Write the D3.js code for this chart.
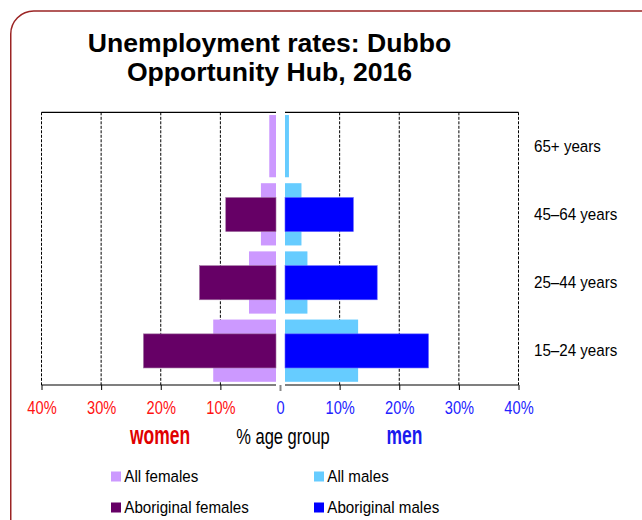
<!DOCTYPE html>
<html>
<head>
<meta charset="utf-8">
<script src="https://cdn.jsdelivr.net/npm/d3@7"></script>
<style>
  html, body { margin: 0; padding: 0; background: #fff; }
  svg { display: block; font-family: "Liberation Sans", Arial, Helvetica, sans-serif; }
</style>
</head>
<body>
<svg id="chart" width="642" height="520"></svg>
<script>
// ---- data ----
const categories = ["65+ years", "45–64 years", "25–44 years", "15–24 years"];
const allFemales = [1.8, 3.2, 5.2, 11.2];
const aboriginalFemales = [0, 9.1, 13.5, 22.9];
const allMales = [1.5, 3.6, 4.6, 13.1];
const aboriginalMales = [0, 12.3, 16.3, 24.9];
const tickValues = [0, 10, 20, 30, 40];
const titleLines = ["Unemployment rates: Dubbo", "Opportunity Hub, 2016"];
const legendItems = [
  { label: "All females", color: "#CC99FF" },
  { label: "All males", color: "#66CCFF" },
  { label: "Aboriginal females", color: "#660066" },
  { label: "Aboriginal males", color: "#0000FF" }
];
const colors = { allF: "#CC99FF", abF: "#660066", allM: "#66CCFF", abM: "#0000FF" };

const svg = d3.select("#chart");

// border
svg.append("rect")
  .attr("x", 10.75).attr("y", 11)
  .attr("width", 660).attr("height", 540)
  .attr("rx", 23).attr("ry", 23)
  .attr("fill", "none").attr("stroke", "#9b2424").attr("stroke-width", 1.5);

// title
svg.append("text")
  .attr("text-anchor", "middle")
  .attr("font-weight", "bold").attr("font-size", 26.6).attr("fill", "#000")
  .selectAll("tspan").data(titleLines).join("tspan")
  .attr("x", 269.5).attr("y", (d, i) => 51.5 + i * 29.5)
  .text(d => d);

// scales
const yTop = 112.3, yBottom = 385;
const xL = d3.scaleLinear().domain([0, 40]).range([280, 41.5]);
const xR = d3.scaleLinear().domain([0, 40]).range([280, 518.5]);
const y = d3.scaleBand().domain(categories).range([yTop, yBottom]);
const bw = y.bandwidth();
const gapL = 4, gapR = 5;

// gridlines
const grid = svg.append("g");
[xL, xR].forEach(sc => {
  grid.selectAll(null).data(tickValues.filter(t => t > 0)).join("line")
    .attr("x1", d => sc(d)).attr("x2", d => sc(d))
    .attr("y1", yTop).attr("y2", yBottom)
    .attr("stroke", "#000").attr("stroke-width", 1)
    .attr("stroke-dasharray", "3,1.5");
});

// bars
const rowsF = categories.map((c, i) => ({ c, all: allFemales[i], ab: aboriginalFemales[i] }));
const rowsM = categories.map((c, i) => ({ c, all: allMales[i], ab: aboriginalMales[i] }));

const bars = svg.append("g");
bars.selectAll(null).data(rowsF).join("rect")
  .attr("x", d => xL(d.all)).attr("width", d => xL(0) - gapL - xL(d.all))
  .attr("y", d => y(d.c) + bw * 0.04).attr("height", bw * 0.913)
  .attr("fill", colors.allF);
bars.selectAll(null).data(rowsF.filter(d => d.ab > 0)).join("rect")
  .attr("x", d => xL(d.ab)).attr("width", d => xL(0) - gapL - xL(d.ab))
  .attr("y", d => y(d.c) + bw * 0.25).attr("height", bw * 0.5)
  .attr("fill", colors.abF).attr("stroke", "#a070a0").attr("stroke-width", 0.6);
bars.selectAll(null).data(rowsM).join("rect")
  .attr("x", xR(0) + gapR).attr("width", d => xR(d.all) - xR(0) - gapR)
  .attr("y", d => y(d.c) + bw * 0.04).attr("height", bw * 0.913)
  .attr("fill", colors.allM);
bars.selectAll(null).data(rowsM.filter(d => d.ab > 0)).join("rect")
  .attr("x", xR(0) + gapR).attr("width", d => xR(d.ab) - xR(0) - gapR)
  .attr("y", d => y(d.c) + bw * 0.25).attr("height", bw * 0.5)
  .attr("fill", colors.abM).attr("stroke", "#6060ff").attr("stroke-width", 0.6);

// frame lines (top / bottom)
[[xL(40), xL(0) - gapL], [xR(0) + gapR, xR(40)]].forEach(([a, b]) => {
  [yTop, yBottom].forEach(yy => {
    svg.append("line").attr("x1", a).attr("x2", b).attr("y1", yy).attr("y2", yy)
      .attr("stroke", "#000").attr("stroke-width", 1.2);
  });
});

// axes
function styleAxis(g, color) {
  g.select(".domain").remove();
  g.selectAll(".tick line").attr("stroke", "#000");
  g.selectAll(".tick text")
    .attr("y", 29).attr("dy", 0)
    .attr("fill", color)
    .attr("font-size", 19)
    .attr("font-family", "'Liberation Sans', Arial, sans-serif")
    .attr("transform", "scale(0.77,1)");
}
const axL = svg.append("g").attr("transform", `translate(0,${yBottom})`)
  .call(d3.axisBottom(xL).tickValues(tickValues.filter(t => t > 0)).tickSize(5).tickFormat(d => d + "%"));
styleAxis(axL, "#ff1111");
const axR = svg.append("g").attr("transform", `translate(0,${yBottom})`)
  .call(d3.axisBottom(xR).tickValues(tickValues.filter(t => t > 0)).tickSize(5).tickFormat(d => d + "%"));
styleAxis(axR, "#2222ff");
const ax0 = svg.append("g").attr("transform", `translate(0,${yBottom})`)
  .call(d3.axisBottom(xR).tickValues([0]).tickSize(6).tickFormat(d => String(d)));
styleAxis(ax0, "#2222ff");
ax0.selectAll(".tick line").attr("stroke", "#888").attr("stroke-width", 2);

// category labels
svg.append("g").selectAll("text").data(categories).join("text")
  .attr("transform", d => `translate(534,${y(d) + bw / 2 + 5.5}) scale(0.93,1)`)
  .attr("font-size", 16.3).attr("fill", "#000")
  .text(d => d);

// bottom labels
const bl = [
  { t: "women", x: 160, color: "#e00000", bold: true, size: 25, sx: 0.7 },
  { t: "% age group", x: 283, color: "#000", bold: false, size: 22, sx: 0.75 },
  { t: "men", x: 404.5, color: "#1a1aee", bold: true, size: 25, sx: 0.7 }
];
svg.append("g").selectAll("text").data(bl).join("text")
  .attr("transform", d => `translate(${d.x},444) scale(${d.sx},1)`)
  .attr("text-anchor", "middle")
  .attr("font-size", d => d.size)
  .attr("font-weight", d => d.bold ? "bold" : "normal")
  .attr("fill", d => d.color)
  .text(d => d.t);

// legend
const lg = svg.append("g").selectAll("g").data(legendItems).join("g")
  .attr("transform", (d, i) => `translate(${i % 2 === 0 ? 111 : 314},${i < 2 ? 471.5 : 502.5})`);
lg.append("rect").attr("width", 10).attr("height", 10).attr("fill", d => d.color);
lg.append("text")
  .attr("transform", "translate(13.3,10) scale(0.93,1)")
  .attr("font-size", 16.3).attr("fill", "#000")
  .text(d => d.label);
</script>
</body>
</html>
